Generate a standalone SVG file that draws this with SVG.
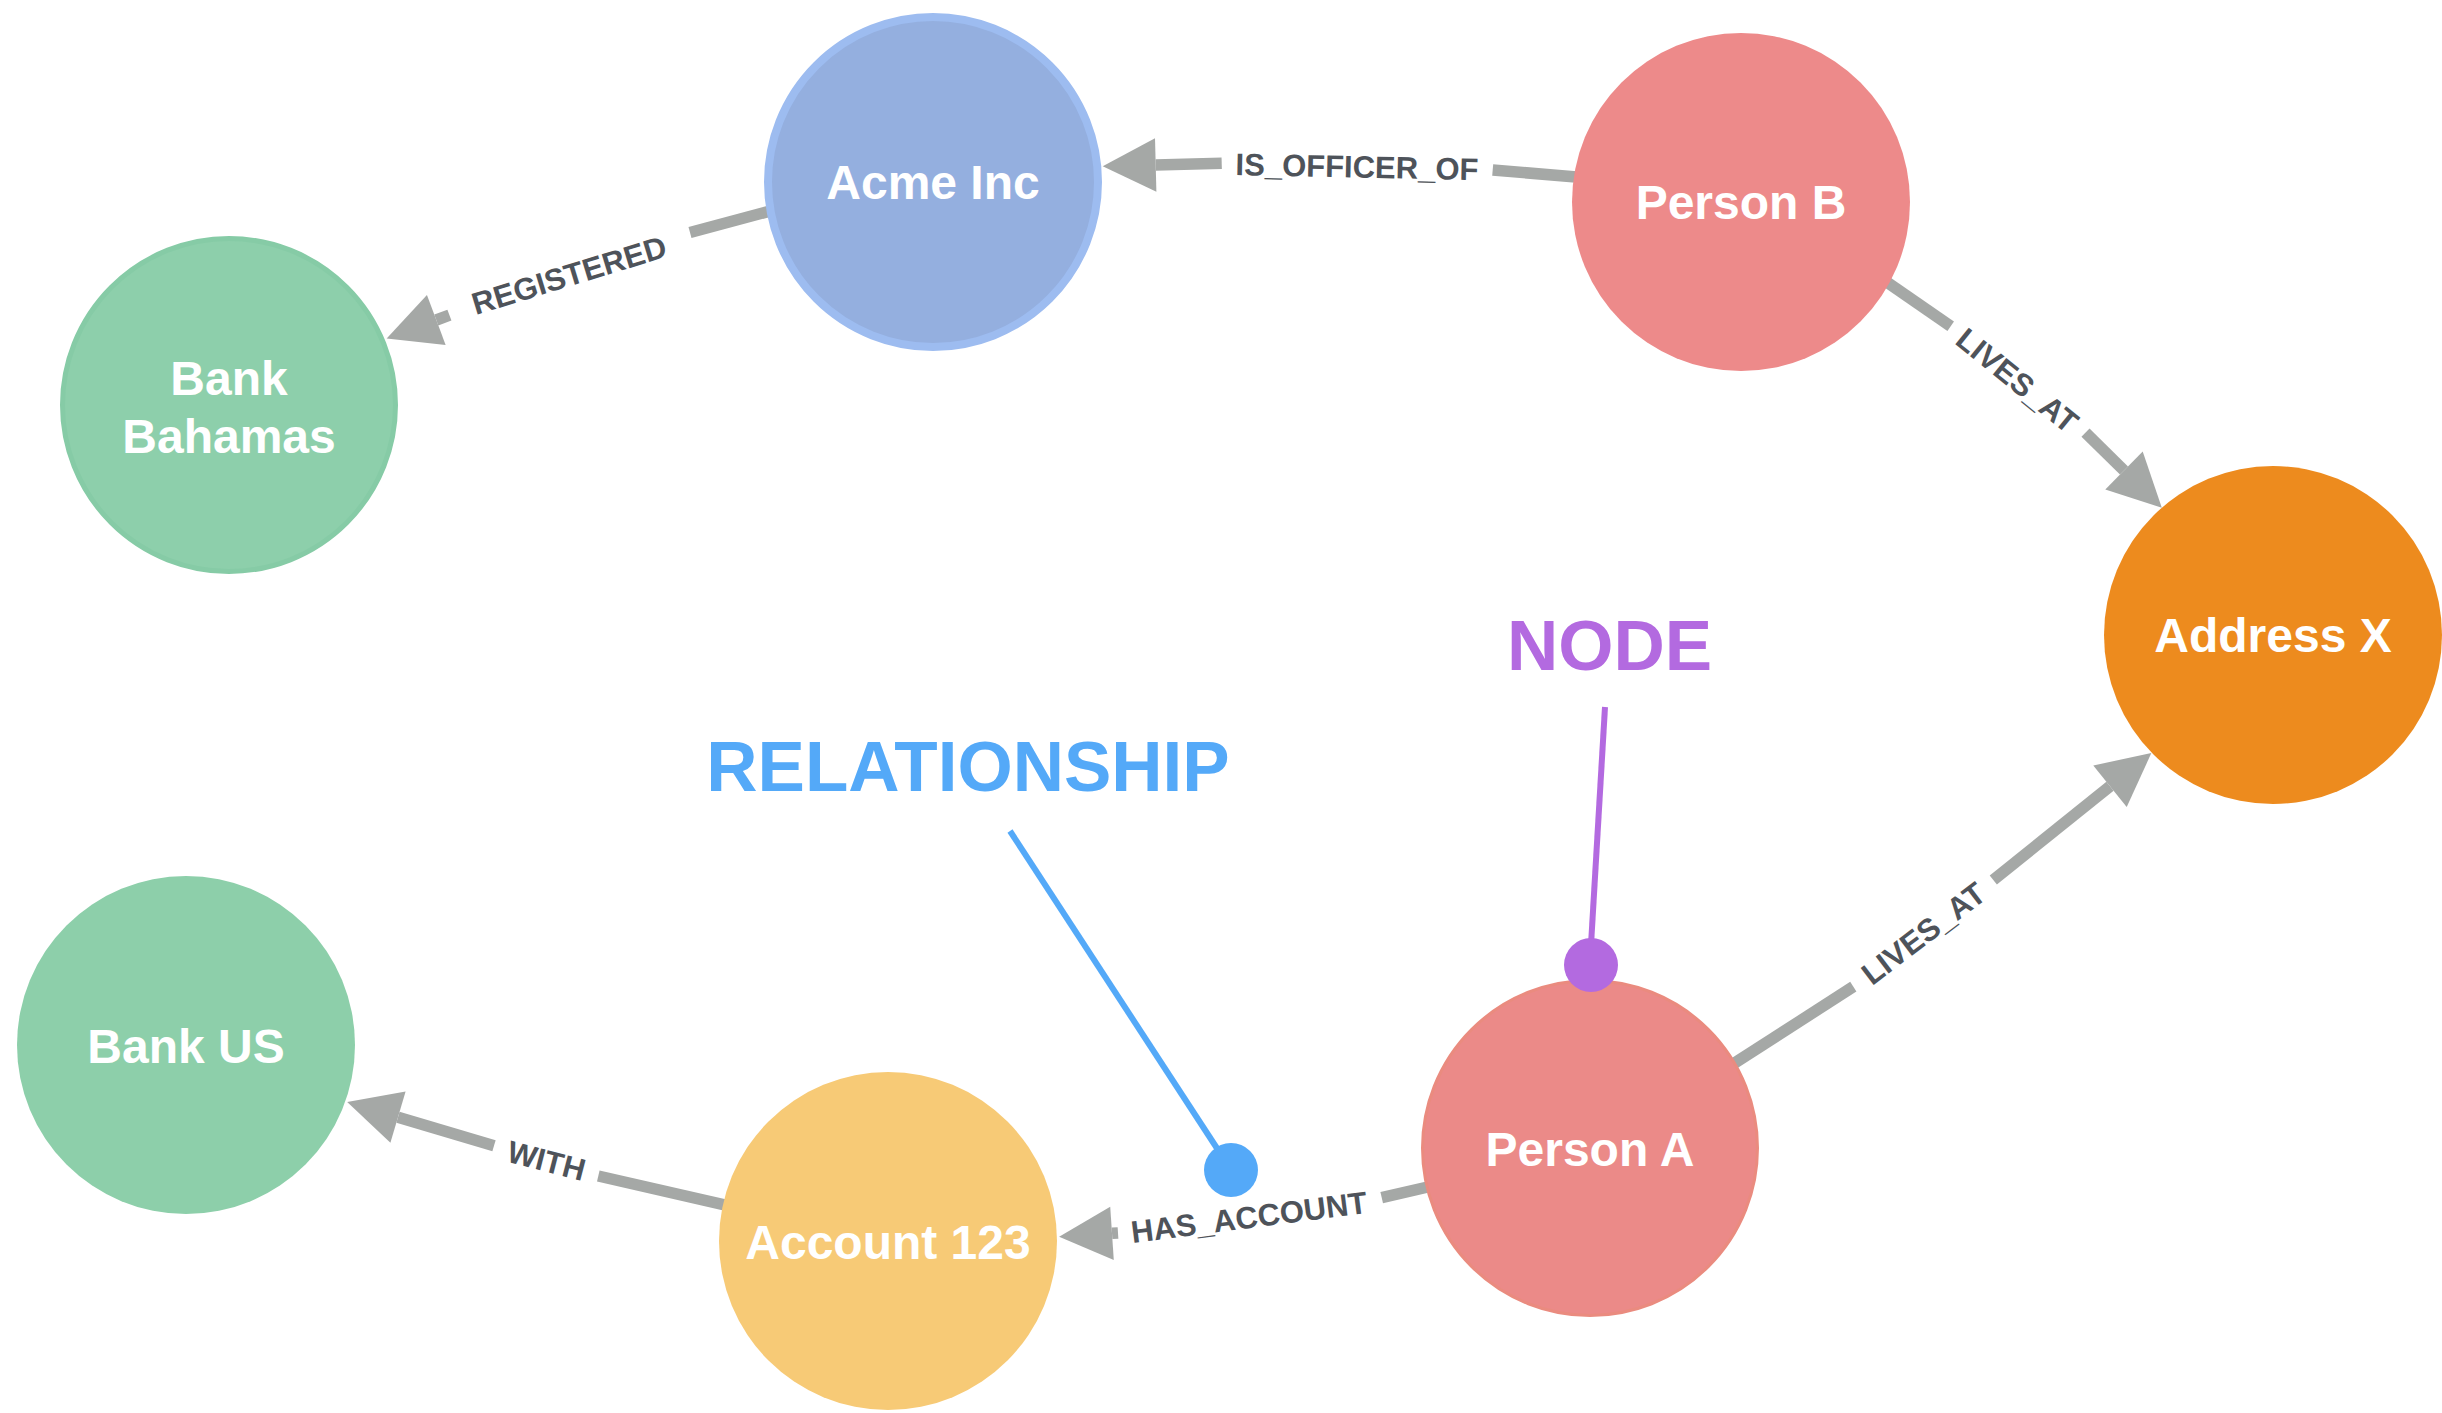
<svg xmlns="http://www.w3.org/2000/svg" width="2442" height="1413" viewBox="0 0 2442 1413">
  <style>
    .edge { fill: none; stroke: #a5a8a6; stroke-width: 11.5; stroke-linecap: butt; }
    .edge-label { font-family: "Liberation Sans", Arial, Helvetica, sans-serif; font-weight: bold; font-size: 31px; fill: #4e535a; text-anchor: middle; }
    .node-label { font-family: "Liberation Sans", Arial, Helvetica, sans-serif; font-weight: bold; font-size: 48px; fill: #ffffff; text-anchor: middle; }
    .callout-text { font-family: "Liberation Sans", Arial, Helvetica, sans-serif; font-weight: bold; font-size: 71px; text-anchor: middle; }
    .callout-node { fill: #b36ae0; stroke: #b36ae0; }
    .callout-rel { fill: #54a9f8; stroke: #54a9f8; }
  </style>
  <defs>
    <marker id="arrow" markerUnits="userSpaceOnUse" viewBox="0 -27 54 54" markerWidth="54" markerHeight="54" refX="0" refY="0" orient="auto" overflow="visible">
      <path d="M0,-26.7 L53,0 L0,26.7 Z" fill="#a5a8a6"/>
    </marker>
  </defs>

  <rect x="0" y="0" width="2442" height="1413" fill="#ffffff"/>

  <!-- relationships: each shaft is split around its label -->
  <g id="connectors">
    <g id="edge-personb-livesat-address">
      <path class="edge" d="M1865,267 L1950.7,326.3"/>
      <path class="edge" d="M2085.5,432.7 L2124,470.5" marker-end="url(#arrow)"/>
      <text class="edge-label" transform="translate(2017.5,380.3) rotate(38.9)" y="11">LIVES_AT</text>
    </g>
    <g id="edge-personb-officer-acme">
      <path class="edge" d="M1600,179 L1492.7,170"/>
      <path class="edge" d="M1221.7,163.3 L1155.7,165" marker-end="url(#arrow)"/>
      <text class="edge-label" transform="translate(1357,166.5) rotate(1.2)" y="11">IS_OFFICER_OF</text>
    </g>
    <g id="edge-acme-registered-bahamas">
      <path class="edge" d="M800,203 L690,232.5"/>
      <path class="edge" d="M449.4,315.1 L436.3,320" marker-end="url(#arrow)"/>
      <text class="edge-label" transform="translate(569,275) rotate(-17)" y="11">REGISTERED</text>
    </g>
    <g id="edge-persona-livesat-address">
      <path class="edge" d="M1711.5,1077.9 L1853.3,986.7"/>
      <path class="edge" d="M1993.3,880 L2110,786.3" marker-end="url(#arrow)"/>
      <text class="edge-label" transform="translate(1923.3,933.3) rotate(-37.3)" y="11">LIVES_AT</text>
    </g>
    <g id="edge-persona-hasaccount-account">
      <path class="edge" d="M1456,1180.5 L1381.7,1197.7"/>
      <path class="edge" d="M1118,1232.9 L1112,1233.3" marker-end="url(#arrow)"/>
      <text class="edge-label" transform="translate(1249,1217) rotate(-7.3)" y="11">HAS_ACCOUNT</text>
    </g>
    <g id="edge-account-with-bankus">
      <path class="edge" d="M754,1211.7 L598.3,1176"/>
      <path class="edge" d="M494,1145.7 L398,1117.2" marker-end="url(#arrow)"/>
      <text class="edge-label" transform="translate(546.5,1160.5) rotate(14.5)" y="11">WITH</text>
    </g>
  </g>

  <!-- nodes -->
  <g id="node-acme">
    <circle cx="933" cy="182" r="165" fill="#94afdf" stroke="#9dbcf0" stroke-width="8"/>
    <text class="node-label" x="933" y="199">Acme Inc</text>
  </g>
  <g id="node-person-b">
    <circle cx="1741" cy="202" r="169" fill="#ed8a8a"/>
    <text class="node-label" x="1741" y="219">Person B</text>
  </g>
  <g id="node-bank-bahamas">
    <circle cx="229" cy="405" r="166.5" fill="#8dcfab" stroke="#86cba6" stroke-width="5"/>
    <text class="node-label" x="229" y="395">Bank</text>
    <text class="node-label" x="229" y="453">Bahamas</text>
  </g>
  <g id="node-address-x">
    <circle cx="2273" cy="635" r="169" fill="#ed8b1e"/>
    <text class="node-label" x="2273" y="652">Address X</text>
  </g>
  <g id="node-bank-us">
    <circle cx="186" cy="1045" r="169" fill="#8dcfaa"/>
    <text class="node-label" x="186" y="1063">Bank US</text>
  </g>
  <g id="node-account-123">
    <circle cx="888" cy="1241" r="169" fill="#f7ca76"/>
    <text class="node-label" x="888" y="1259">Account 123</text>
  </g>
  <g id="node-person-a">
    <circle cx="1590" cy="1148" r="167.5" fill="#eb8a88" stroke="#ea8b7f" stroke-width="3"/>
    <text class="node-label" x="1590" y="1166">Person A</text>
  </g>

  <!-- explanatory callouts -->
  <g id="callout-node" class="callout-node">
    <line x1="1605" y1="707" x2="1591" y2="945" stroke-width="6"/>
    <circle cx="1591" cy="965" r="27" stroke="none"/>
    <text class="callout-text" x="1609.5" y="670" stroke="none">NODE</text>
  </g>
  <g id="callout-relationship" class="callout-rel">
    <line x1="1010" y1="831" x2="1222" y2="1156" stroke-width="6"/>
    <circle cx="1231" cy="1170" r="27" stroke="none"/>
    <text class="callout-text" x="968" y="791" stroke="none">RELATIONSHIP</text>
  </g>
</svg>
